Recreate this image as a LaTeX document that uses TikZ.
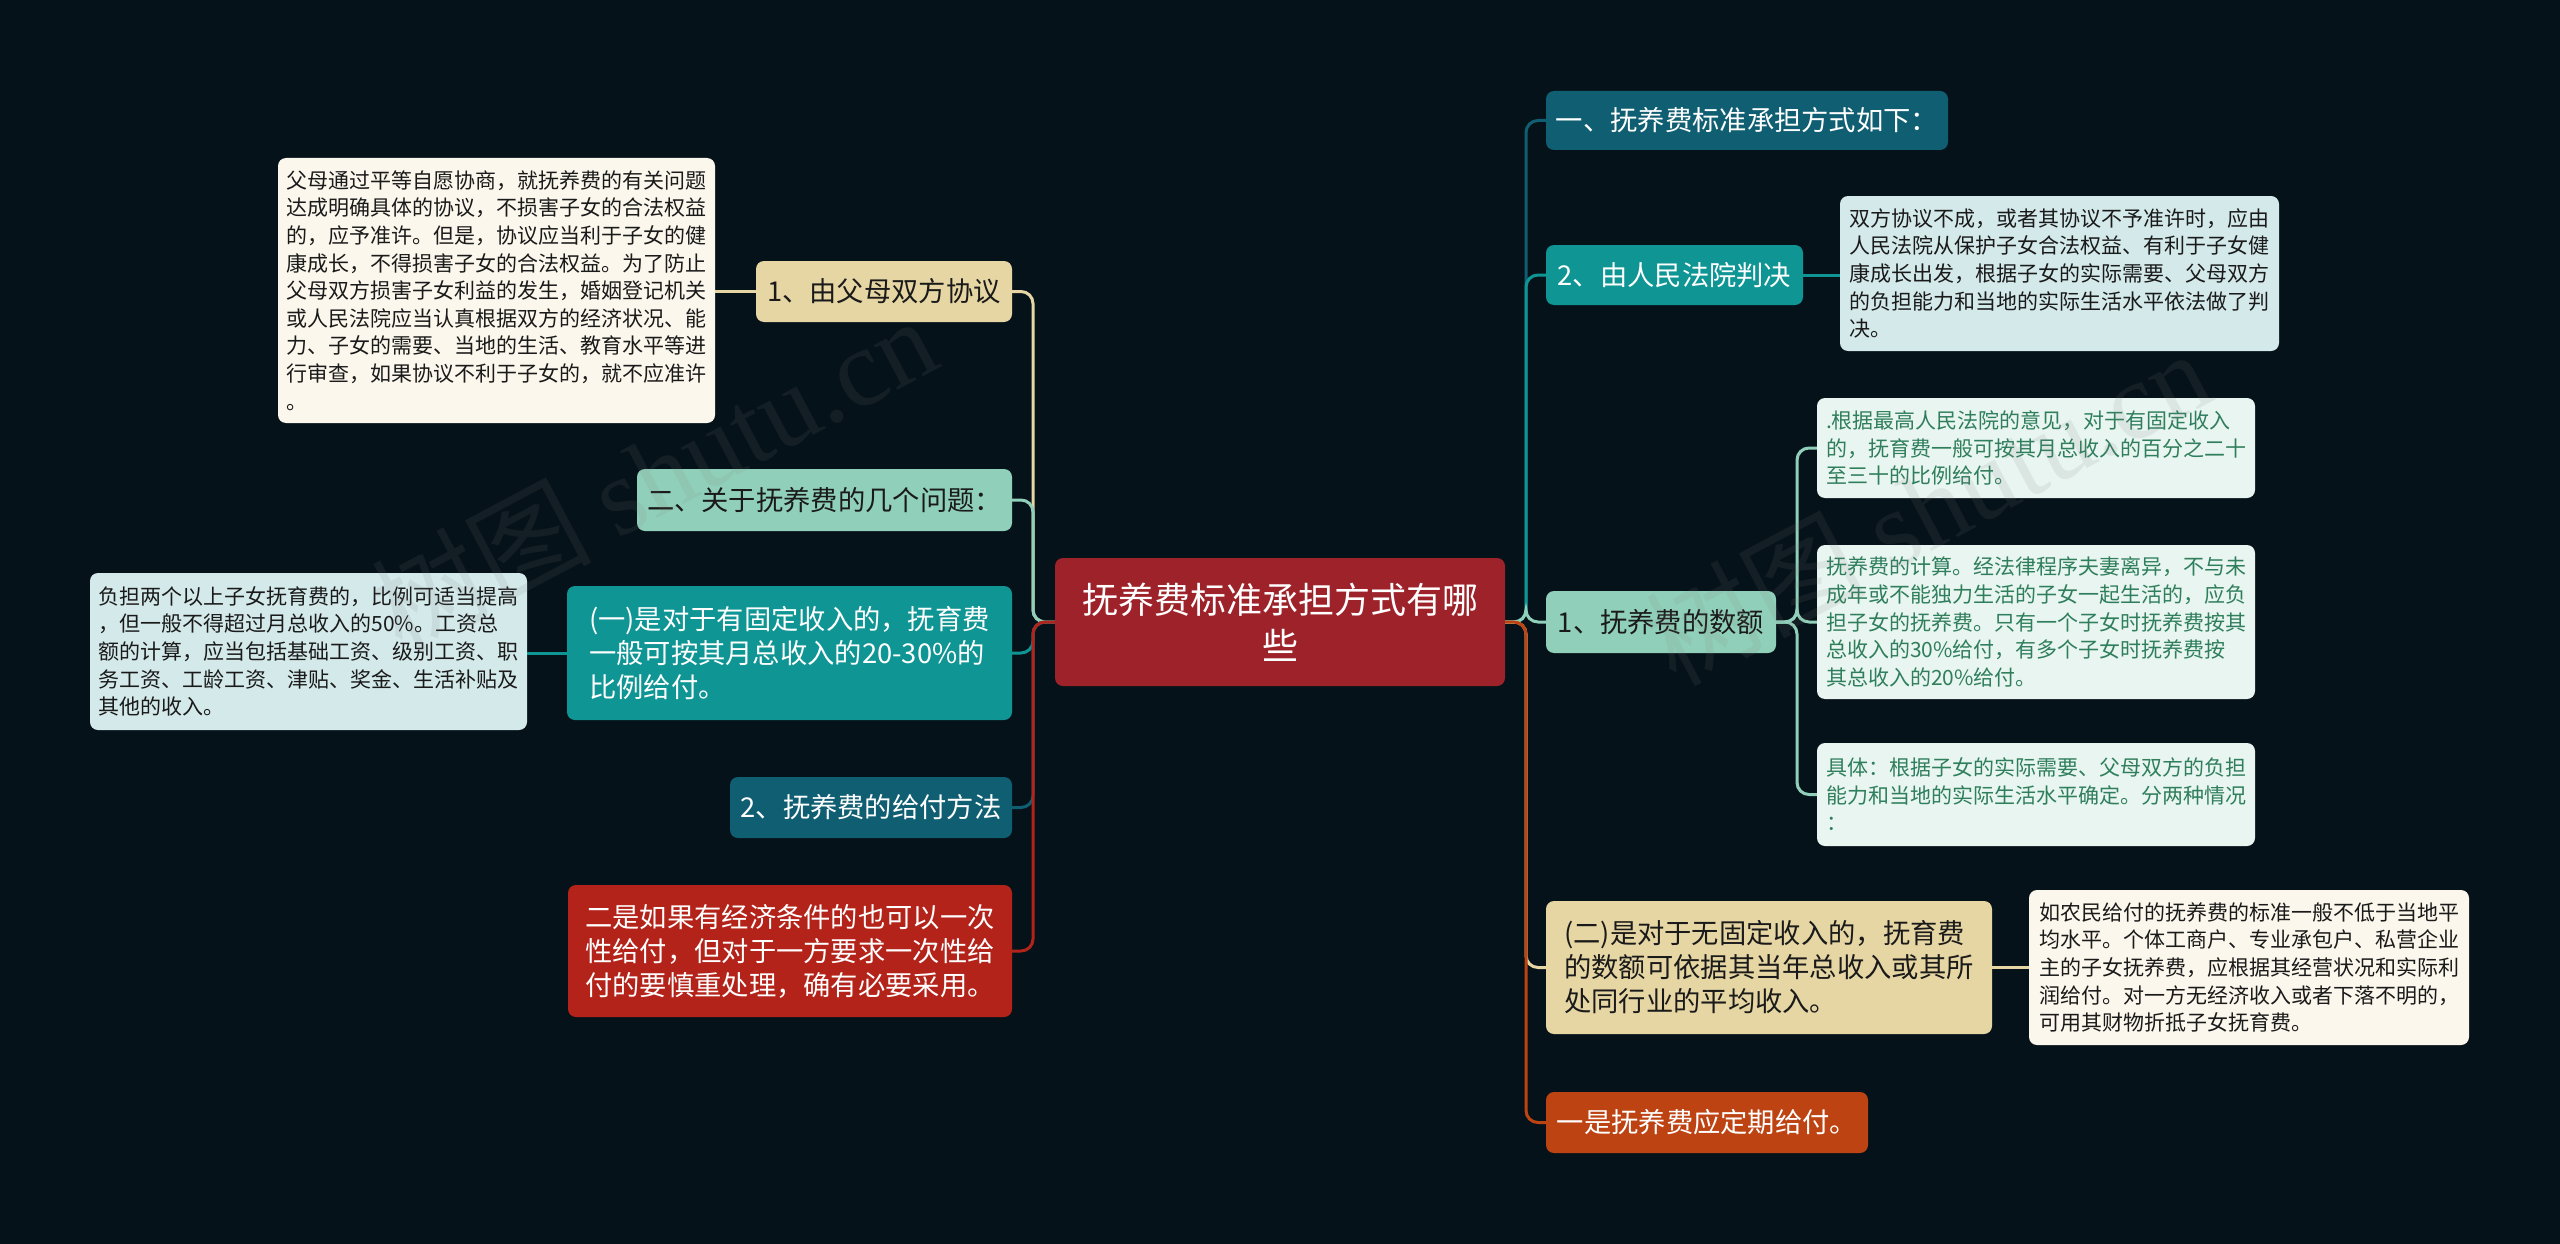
\documentclass[tikz,border=0pt]{standalone}
\usepackage{fontspec}
\setmainfont{Noto Sans CJK SC}
\newfontfamily\wmfont{Liberation Serif}
\newfontfamily\wmcjk{Noto Sans CJK SC}
\definecolor{bgc}{HTML}{061219}
\definecolor{rootc}{HTML}{9E2229}
\definecolor{beige}{HTML}{E6D6A4}
\definecolor{cream}{HTML}{FBF7EC}
\definecolor{mint}{HTML}{90D0BA}
\definecolor{teal}{HTML}{0E9594}
\definecolor{dteal}{HTML}{105E72}
\definecolor{redc}{HTML}{B3231A}
\definecolor{orangec}{HTML}{BE4312}
\definecolor{lblue}{HTML}{D4E9EA}
\definecolor{lmint}{HTML}{E8F5F0}
\definecolor{gtext}{HTML}{2F7E5C}
\definecolor{dtext}{HTML}{1A1A1A}
\tikzset{
  box/.style={rounded corners=8pt, inner sep=0pt, align=left, anchor=center},
  mainfont/.style={font=\fontsize{27.3}{34}\selectfont},
  leaffont/.style={font=\fontsize{21}{27.6}\selectfont},
  conn/.style={line width=3pt, rounded corners=12pt},
}
\begin{document}
\begin{tikzpicture}[x=1pt,y=-1pt]
\fill[bgc] (0,0) rectangle (2560,1244);
\useasboundingbox (0,0) rectangle (2560,1244);

% root
\node[box, fill=rootc, text=white, minimum width=450pt, minimum height=128pt, align=center, font=\fontsize{36}{46}\selectfont] (root) at (1280,622) {抚养费标准承担方式有哪\\些};

% left children
\node[box, mainfont, fill=beige, text=dtext, minimum width=256pt, minimum height=61pt] (L1) at (884,291.5) {1、由父母双方协议};
\node[box, mainfont, fill=mint, text=dtext, minimum width=375pt, minimum height=62pt] (L2) at (824.5,500) {二、关于抚养费的几个问题：};
\node[box, mainfont, fill=teal, text=white, minimum width=445pt, minimum height=134pt] (L3) at (789.5,653) {(一)是对于有固定收入的，抚育费\\一般可按其月总收入的20-30\%的\\比例给付。};
\node[box, mainfont, fill=dteal, text=white, minimum width=282pt, minimum height=61pt] (L4) at (871,807.5) {2、抚养费的给付方法};
\node[box, mainfont, fill=redc, text=white, minimum width=444pt, minimum height=132pt] (L5) at (790,951) {二是如果有经济条件的也可以一次\\性给付，但对于一方要求一次性给\\付的要慎重处理，确有必要采用。};

% left leaves
\node[box, leaffont, fill=cream, text=dtext, minimum width=437pt, minimum height=265pt] (LL1) at (496.5,290.5) {父母通过平等自愿协商，就抚养费的有关问题\\达成明确具体的协议，不损害子女的合法权益\\的，应予准许。但是，协议应当利于子女的健\\康成长，不得损害子女的合法权益。为了防止\\父母双方损害子女利益的发生，婚姻登记机关\\或人民法院应当认真根据双方的经济状况、能\\力、子女的需要、当地的生活、教育水平等进\\行审查，如果协议不利于子女的，就不应准许\\。};
\node[box, leaffont, fill=lblue, text=dtext, minimum width=437pt, minimum height=157pt] (LL3) at (308.5,651.5) {负担两个以上子女抚育费的，比例可适当提高\\，但一般不得超过月总收入的50\%。工资总\\额的计算，应当包括基础工资、级别工资、职\\务工资、工龄工资、津贴、奖金、生活补贴及\\其他的收入。};

% right children
\node[box, mainfont, fill=dteal, text=white, minimum width=402pt, minimum height=59pt] (R1) at (1747,120.5) {一、抚养费标准承担方式如下：};
\node[box, mainfont, fill=teal, text=white, minimum width=257pt, minimum height=60pt] (R2) at (1674.5,275) {2、由人民法院判决};
\node[box, mainfont, fill=mint, text=dtext, minimum width=230pt, minimum height=62pt] (R3) at (1661,622) {1、抚养费的数额};
\node[box, mainfont, fill=beige, text=dtext, minimum width=446pt, minimum height=133pt] (R4) at (1769,967.5) {(二)是对于无固定收入的，抚育费\\的数额可依据其当年总收入或其所\\处同行业的平均收入。};
\node[box, mainfont, fill=orangec, text=white, minimum width=322pt, minimum height=61pt] (R5) at (1707,1122.5) {一是抚养费应定期给付。};

% right leaves
\node[box, leaffont, fill=lblue, text=dtext, minimum width=439pt, minimum height=155pt] (RL2) at (2059.5,273.5) {双方协议不成，或者其协议不予准许时，应由\\人民法院从保护子女合法权益、有利于子女健\\康成长出发，根据子女的实际需要、父母双方\\的负担能力和当地的实际生活水平依法做了判\\决。};
\node[box, leaffont, fill=lmint, text=gtext, minimum width=438pt, minimum height=100pt] (R3a) at (2036,448) {.根据最高人民法院的意见，对于有固定收入\\的，抚育费一般可按其月总收入的百分之二十\\至三十的比例给付。};
\node[box, leaffont, fill=lmint, text=gtext, minimum width=438pt, minimum height=154pt] (R3b) at (2036,622) {抚养费的计算。经法律程序夫妻离异，不与未\\成年或不能独力生活的子女一起生活的，应负\\担子女的抚养费。只有一个子女时抚养费按其\\总收入的30\%给付，有多个子女时抚养费按\\其总收入的20\%给付。};
\node[box, leaffont, fill=lmint, text=gtext, minimum width=438pt, minimum height=103pt] (R3c) at (2036,794.5) {具体：根据子女的实际需要、父母双方的负担\\能力和当地的实际生活水平确定。分两种情况\\：};
\node[box, leaffont, fill=cream, text=dtext, minimum width=440pt, minimum height=155pt] (RL4) at (2249,967.5) {如农民给付的抚养费的标准一般不低于当地平\\均水平。个体工商户、专业承包户、私营企业\\主的子女抚养费，应根据其经营状况和实际利\\润给付。对一方无经济收入或者下落不明的，\\可用其财物折抵子女抚育费。};

% trunk coordinates
\coordinate (tL) at (1033,622);
\coordinate (tR) at (1526,622);
\coordinate (t3) at (1797,622);

% left connectors
\draw[conn, beige] (root.west) -- (tL) |- (L1.east);
\draw[conn, mint] (root.west) -- (tL) |- (L2.east);
\draw[conn, teal] (root.west) -- (tL) |- (L3.east);
\draw[conn, dteal] (root.west) -- (tL) |- (L4.east);
\draw[conn, redc] (root.west) -- (tL) |- (L5.east);
% right connectors
\draw[conn, dteal] (root.east) -- (tR) |- (R1.west);
\draw[conn, teal] (root.east) -- (tR) |- (R2.west);
\draw[conn, mint] (root.east) -- (tR) |- (R3.west);
\draw[conn, beige] (root.east) -- (tR) |- (R4.west);
\draw[conn, orangec] (root.east) -- (tR) |- (R5.west);
% leaf connectors
\draw[conn, beige] (L1.west) -- (L1.west -| LL1.east);
\draw[conn, teal] (L3.west) -- (L3.west -| LL3.east);
\draw[conn, teal] (R2.east) -- (R2.east -| RL2.west);
\draw[conn, beige] (R4.east) -- (R4.east -| RL4.west);
\draw[conn, mint] (R3.east) -- (t3) |- (R3a.west);
\draw[conn, mint] (R3.east) -- (t3) |- (R3b.west);
\draw[conn, mint] (R3.east) -- (t3) |- (R3c.west);

% watermarks
\node[rotate=28, text=gray, opacity=0.12, font=\fontsize{110}{110}\selectfont] (wm1) at (653,473) {{\wmcjk 树图} {\wmfont shutu.cn}};
\node[rotate=28, text=gray, opacity=0.12, font=\fontsize{110}{110}\selectfont] (wm2) at (1927,506) {{\wmcjk 树图} {\wmfont shutu.cn}};
\end{tikzpicture}
\end{document}
